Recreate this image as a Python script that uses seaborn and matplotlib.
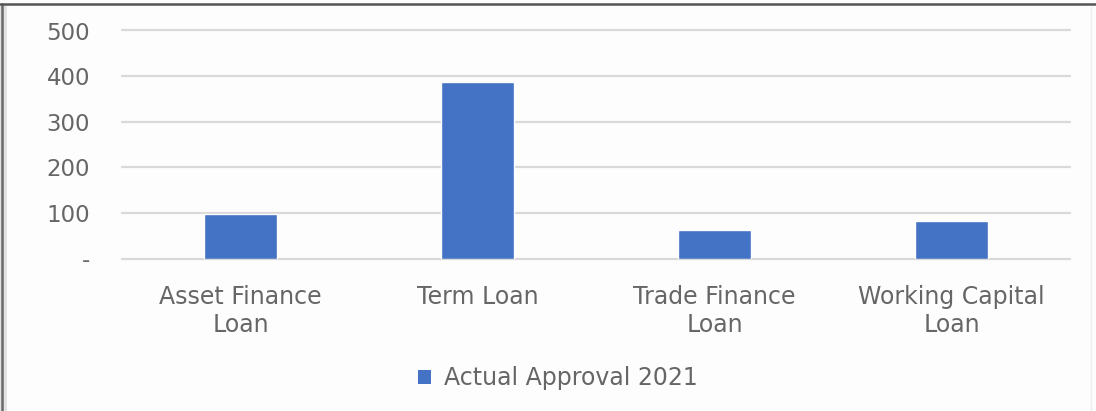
import matplotlib
matplotlib.use("Agg")
import matplotlib.pyplot as plt
from matplotlib.patches import Rectangle
from matplotlib.lines import Line2D
import seaborn as sns
import pandas as pd

# Loan products and approved amounts
categories = ["Asset Finance\nLoan", "Term Loan", "Trade Finance\nLoan", "Working Capital\nLoan"]
approvals = [98, 387, 63, 83]
series_name = "Actual Approval 2021"
y_ticks = [0, 100, 200, 300, 400, 500]
y_tick_labels = ["-", "100", "200", "300", "400", "500"]

bar_color = "#4472C4"
text_color = "#666666"
grid_color = "#d9d9d9"

sns.set_theme(style="white")
plt.rcParams["font.family"] = ["DejaVu Sans"]

df = pd.DataFrame({"category": categories, "value": approvals, "series": series_name})

fig = plt.figure(figsize=(10.96, 4.11), dpi=100)
fig.patch.set_facecolor("#fdfdfd")
ax = fig.add_axes([122 / 1096, 1 - 258.5 / 411, 948 / 1096, 228 / 411])
ax.set_facecolor("none")

sns.barplot(data=df, x="category", y="value", hue="series",
            palette=[bar_color], width=0.31, saturation=1, ax=ax, legend=False,
            zorder=3)

ax.set_ylim(0, 500)
ax.set_xlim(-0.5, len(categories) - 0.5)
ax.set_yticks(y_ticks)
ax.set_yticklabels(y_tick_labels)
ax.yaxis.grid(True, color=grid_color, linewidth=1.6, zorder=0)
for gl in ax.get_ygridlines():
    gl.set_clip_on(False)
ax.set_axisbelow(True)
for s in ax.spines.values():
    s.set_visible(False)
ax.tick_params(axis="y", length=0, pad=23, labelsize=16.5, labelcolor=text_color)
ax.tick_params(axis="x", length=0, pad=19, labelsize=17, labelcolor=text_color)
for lbl in ax.get_xticklabels():
    lbl.set_linespacing(1.2)
ax.set_xlabel("")
ax.set_ylabel("")

# Series legend below the categories
handle = Rectangle((0, 0), 1, 1, facecolor=bar_color, edgecolor="none")
fig.legend([handle], [series_name], loc="center", bbox_to_anchor=(558 / 1096, 1 - 378 / 411),
           frameon=False, fontsize=17, labelcolor=text_color,
           handlelength=0.55, handleheight=0.55, handletextpad=0.55)

# Window frame along the top and left edges
fig.add_artist(Rectangle((0, 0), 7 / 1096, 1 - 4 / 411, transform=fig.transFigure,
                         facecolor="#e2e2e2", edgecolor="none", zorder=10))
fig.add_artist(Line2D([1.5 / 1096, 1.5 / 1096], [0, 1 - 4 / 411], color="#6a6a6a", linewidth=1.8,
                      transform=fig.transFigure, zorder=11))
fig.add_artist(Line2D([0, 1], [1 - 4 / 411, 1 - 4 / 411], color="#555555", linewidth=1.8,
                      transform=fig.transFigure, zorder=11))
fig.add_artist(Line2D([1091 / 1096, 1091 / 1096], [0, 1 - 6 / 411], color="#eeeeee", linewidth=1.0,
                      transform=fig.transFigure, zorder=11))

fig.savefig("out.png", dpi=100, facecolor=fig.get_facecolor())
